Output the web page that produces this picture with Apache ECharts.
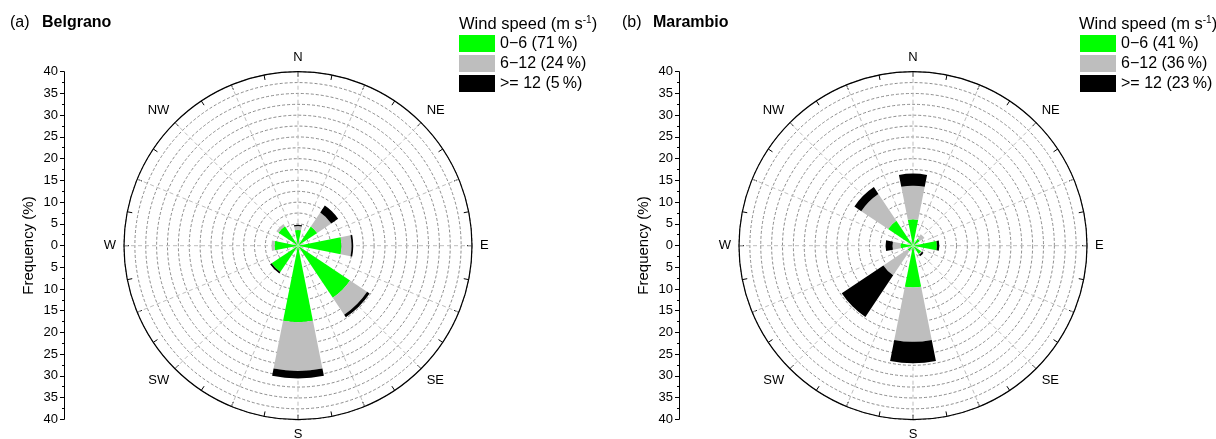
<!DOCTYPE html>
<html><head><meta charset="utf-8">
<script src="https://cdn.jsdelivr.net/npm/echarts@6/dist/echarts.min.js"></script>
<style>html,body{margin:0;padding:0;background:#fff}#c{width:1216px;height:439px}</style>
</head><body><div id="c"></div>
<script>
// ---- data ----
const directions = ['N', 'NE', 'E', 'SE', 'S', 'SW', 'W', 'NW'];
const compassLabels = {0: 'N', 45: 'NE', 90: 'E', 135: 'SE', 180: 'S', 225: 'SW', 270: 'W', 315: 'NW'};
const speedClassesBelgrano = ['0\u22126 (71\u2009%)', '6\u221212 (24\u2009%)', '>= 12 (5\u2009%)'];
const speedClassesMarambio = ['0\u22126 (41\u2009%)', '6\u221212 (36\u2009%)', '>= 12 (23\u2009%)'];
// frequency (%) per direction, each speed class (stacked)
const belgranoLow  = [3.6, 5.3, 10.0, 14.4, 17.6, 7.3, 5.4, 5.4];
const belgranoMid  = [0.9, 3.9, 2.3, 4.7, 11.2, 0.0, 0.7, 0.6];
const belgranoHigh = [0.3, 1.9, 0.4, 0.7, 1.7, 0.4, 0.0, 0.0];
const marambioLow  = [6.1, 1.9, 5.5, 2.3, 9.6, 1.5, 2.9, 6.9];
const marambioMid  = [7.7, 1.3, 0.0, 0.2, 12.5, 6.7, 1.8, 7.4];
const marambioHigh = [2.8, 0.0, 0.55, 0.4, 4.9, 11.5, 1.6, 1.9];
const radiusTicks = {min: -40, max: 40, interval: 5};

const FONT = 'Liberation Sans, Arial, sans-serif';
const colors = ['#00ff00', '#bebebe', '#000000'];

function gridAngle(pi) {
  return {
    polarIndex: pi, type: 'value', min: 0, max: 360, interval: 22.5, startAngle: 90, clockwise: true,
    axisLine: {show: true, lineStyle: {color: '#000', width: 1.2}},
    axisTick: {show: true, inside: true, length: 5, lineStyle: {color: '#000', width: 1}},
    minorTick: {show: true, splitNumber: 2, length: 5, lineStyle: {color: '#000', width: 1}},
    axisLabel: {margin: 8, color: '#000', fontSize: 13, fontFamily: FONT, formatter: v => compassLabels[v] || ''},
    splitLine: {show: true, lineStyle: {color: '#bdbdbd', type: [4, 3], width: 1}},
    z: 0
  };
}
function gridRadius(pi) {
  return {
    polarIndex: pi, type: 'value', min: 0, max: 40, interval: 2.5,
    axisLine: {show: false}, axisTick: {show: false}, axisLabel: {show: false},
    splitLine: {show: true, lineStyle: {color: '#707070', type: [3, 2], width: 0.8}},
    z: 0
  };
}
function barAngle(pi) {
  return {
    polarIndex: pi, type: 'category', data: directions, startAngle: 112.5, clockwise: true,
    axisLine: {show: false}, axisTick: {show: false}, axisLabel: {show: false}, splitLine: {show: false}
  };
}
function barRadius(pi) {
  return {
    polarIndex: pi, type: 'value', min: 0, max: 40,
    axisLine: {show: false}, axisTick: {show: false}, axisLabel: {show: false}, splitLine: {show: false}
  };
}
function barSeries(pi, stack, names, arrays) {
  return arrays.map((arr, i) => ({
    type: 'bar', coordinateSystem: 'polar', polarIndex: pi, stack: stack, name: names[i],
    data: arr, barWidth: '50%', itemStyle: {color: colors[i]}, z: 2, silent: true
  }));
}
function yAxisDef(gi) {
  return {
    gridIndex: gi, type: 'value', min: radiusTicks.min, max: radiusTicks.max, interval: radiusTicks.interval,
    axisLine: {show: true, lineStyle: {color: '#000', width: 1}},
    axisTick: {show: true, inside: false, length: 4, lineStyle: {color: '#000'}},
    minorTick: {show: true, splitNumber: 2, length: 2, lineStyle: {color: '#000'}},
    splitLine: {show: false},
    axisLabel: {margin: 6, color: '#000', fontSize: 13, fontFamily: FONT, formatter: v => String(Math.abs(v))},
    name: 'Frequency (%)', nameLocation: 'middle', nameGap: 28, nameRotate: 90,
    nameTextStyle: {color: '#000', fontSize: 15, fontFamily: FONT}
  };
}
function legendDef(left, names) {
  return {
    data: names, orient: 'vertical', left: left, top: 35, itemWidth: 36, itemHeight: 17, itemGap: 3,
    padding: 0, icon: 'rect', selectedMode: false,
    textStyle: {color: '#000', fontSize: 16, fontFamily: FONT, lineHeight: 17}
  };
}
const richSup = {sup: {fontSize: 10, verticalAlign: 'top', color: '#000', fontFamily: FONT, padding: [0, 0, 8, 0]}};
const panelText = (w) => ({fontSize: 16, fontWeight: w, color: '#000', fontFamily: FONT});

const chart = echarts.init(document.getElementById('c'), null, {renderer: 'canvas'});
chart.setOption({
  animation: false,
  backgroundColor: '#fff',
  title: [
    {text: '(a)', left: 10, top: 15, padding: 0, textStyle: panelText('normal')},
    {text: 'Belgrano', left: 42, top: 15, padding: 0, textStyle: panelText('bold')},
    {text: '(b)', left: 622, top: 15, padding: 0, textStyle: panelText('normal')},
    {text: 'Marambio', left: 653, top: 15, padding: 0, textStyle: panelText('bold')},
    {text: 'Wind speed (m s{sup|-1})', left: 459, top: 15, padding: 0, textStyle: {fontSize: 16.5, fontWeight: 'normal', color: '#000', fontFamily: FONT, rich: richSup}},
    {text: 'Wind speed (m s{sup|-1})', left: 1079, top: 15, padding: 0, textStyle: {fontSize: 16.5, fontWeight: 'normal', color: '#000', fontFamily: FONT, rich: richSup}}
  ],
  legend: [legendDef(459, speedClassesBelgrano), legendDef(1080, speedClassesMarambio)],
  grid: [
    {left: 64, top: 71.7, height: 347.6, width: 1},
    {left: 679, top: 71.7, height: 347.6, width: 1}
  ],
  xAxis: [
    {gridIndex: 0, type: 'value', show: false},
    {gridIndex: 1, type: 'value', show: false}
  ],
  yAxis: [yAxisDef(0), yAxisDef(1)],
  polar: [
    {center: [298, 245.7], radius: 174},
    {center: [298, 245.7], radius: 174},
    {center: [913, 245.7], radius: 174},
    {center: [913, 245.7], radius: 174}
  ],
  angleAxis: [gridAngle(0), barAngle(1), gridAngle(2), barAngle(3)],
  radiusAxis: [gridRadius(0), barRadius(1), gridRadius(2), barRadius(3)],
  series: [
    ...barSeries(1, 'left', speedClassesBelgrano, [belgranoLow, belgranoMid, belgranoHigh]),
    ...barSeries(3, 'right', speedClassesMarambio, [marambioLow, marambioMid, marambioHigh])
  ]
});
</script>
</body></html>
